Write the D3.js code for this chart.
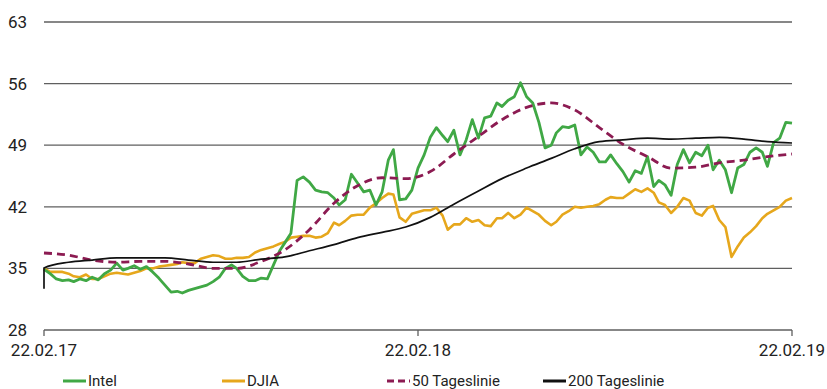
<!DOCTYPE html>
<html lang="de">
  <head>
    <meta charset="UTF-8" />
    <title>Intel vs DJIA</title>
    <script src="https://d3js.org/d3.v7.min.js"></script>
    <style>
      body { margin: 0; background: #fff; }
      text { font-family: Roboto, "DejaVu Sans", sans-serif; fill: #222; }
    </style>
  </head>
  <body>
    <div id="chart"></div>
    <script>
      // y ticks and x ticks
      const yTicks = [28, 35, 42, 49, 56, 63];
      const xTickLabels = ["22.02.17", "22.02.18", "22.02.19"];
      const startDate = "2017-02-22";
      const endDate = "2019-02-22";

      // Intel close, roughly every 6 calendar days
      const intel = [
        34.9, 34.4, 33.8, 33.6, 33.7, 33.5, 33.8, 33.6, 34.0, 33.7,
        34.4, 34.8, 35.6, 34.8, 35.0, 35.3, 34.9, 35.2, 34.6, 33.9,
        33.1, 32.3, 32.4, 32.2, 32.5, 32.7, 32.9, 33.1, 33.5, 34.0,
        35.0, 35.4, 35.0, 34.1, 33.6, 33.6, 33.9, 33.8, 35.4, 37.0,
        37.9, 39.0, 45.0, 45.4, 44.8, 43.9, 43.7, 43.6, 43.0, 42.2,
        42.8, 45.7, 44.7, 43.7, 43.9, 42.2, 43.7, 47.3, 48.5, 42.8,
        42.9, 43.9, 46.4, 47.9, 49.9, 51.0, 50.1, 49.4, 50.7, 47.9,
        49.6, 51.9, 49.8, 52.1, 52.3, 53.8, 53.4, 54.1, 54.5, 56.1,
        54.5, 53.8, 51.6, 48.7, 49.0, 50.4, 51.1, 51.0, 51.3, 47.9,
        48.8, 48.2, 47.1, 47.1, 47.9, 46.9, 46.0, 44.8, 46.1, 45.8,
        47.7, 44.3, 45.0, 44.5, 43.3, 46.8, 48.5, 47.0, 48.2, 47.8,
        49.0, 46.2, 47.3, 46.2, 43.6, 46.4, 46.8, 48.2, 48.7, 48.2,
        46.6, 49.3, 49.8, 51.6, 51.5
      ];

      // DJIA (scaled), same dates
      const djia = [
        35.0, 34.6, 34.6, 34.6, 34.4, 34.1, 34.0, 34.3, 33.8, 33.8,
        34.1, 34.4, 34.5, 34.4, 34.3, 34.5, 34.7, 35.0, 35.0, 35.2,
        35.3, 35.4, 35.5, 35.7, 35.6, 35.6, 36.1, 36.3, 36.5, 36.4,
        36.1, 36.1, 36.2, 36.2, 36.3, 36.8, 37.1, 37.3, 37.5, 37.8,
        38.0, 38.5, 38.6, 38.7, 38.7, 38.5, 38.6, 39.0, 40.2, 39.9,
        40.4, 41.0, 41.1, 41.1, 41.9, 42.4, 43.0, 43.5, 43.4, 40.8,
        40.3, 41.2, 41.4, 41.6, 41.6, 41.9, 41.0, 39.4, 40.0, 40.0,
        40.7, 40.3, 40.5, 39.9, 39.8, 40.7, 40.7, 41.3, 40.7, 41.1,
        41.9, 41.5, 41.1, 40.4, 39.9, 40.3, 41.1, 41.5, 42.0, 41.9,
        42.0, 42.1, 42.3, 42.8, 43.1, 43.0, 43.0, 43.5, 44.0, 43.7,
        44.1, 43.6, 42.5, 42.2, 41.3, 42.0, 43.0, 42.7, 41.3, 41.0,
        41.9, 42.1, 40.5, 39.7, 36.3, 37.5, 38.5, 39.1, 39.8, 40.7,
        41.2, 41.6, 42.0, 42.7, 43.0
      ];

      // moving averages, every 4th date of the grid above
      const ma50 = [
        36.75, 36.5, 35.95, 35.7, 35.8, 35.8, 35.5, 35.0, 35.0, 35.8,
        37.1, 39.4, 42.4, 44.4, 45.3, 45.2, 46.0, 48.0, 50.0, 51.9,
        53.3, 53.8, 53.0, 51.0, 49.1, 47.7, 46.4, 46.5, 47.0, 47.3,
        47.7, 48.0
      ];
      const ma200Start = 32.7;
      const ma200 = [
        35.05, 35.7, 35.95, 36.2, 36.2, 36.2, 35.95, 35.7, 35.7, 36.05,
        36.3, 37.0, 37.7, 38.5, 39.1, 39.7, 40.8, 42.3, 43.8, 45.2,
        46.4, 47.5, 48.6, 49.4, 49.6, 49.8, 49.7, 49.8, 49.9, 49.7,
        49.4, 49.25
      ];

      const legendItems = [
        { name: "Intel", color: "#40a845", dash: null },
        { name: "DJIA", color: "#e6a71c", dash: null },
        { name: "50 Tageslinie", color: "#8c1b52", dash: "7,4" },
        { name: "200 Tageslinie", color: "#111", dash: null },
      ];

      const W = 827, H = 389;
      const svg = d3.select("#chart").append("svg")
        .attr("width", W).attr("height", H);

      const parse = d3.timeParse("%Y-%m-%d");
      const t0 = parse(startDate), t1 = parse(endDate);
      const totalDays = d3.timeDay.count(t0, t1);
      const n = intel.length;
      const dateAt = i => d3.timeDay.offset(t0, Math.round(i * totalDays / (n - 1)));

      const x = d3.scaleTime().domain([t0, t1]).range([44, 792]);
      const y = d3.scaleLinear().domain([28, 63]).range([330, 22]);

      // gridlines
      svg.append("g").selectAll("line").data(yTicks).join("line")
        .attr("x1", 44).attr("x2", 792)
        .attr("y1", d => y(d)).attr("y2", d => y(d))
        .attr("stroke", "#5f5f5f").attr("stroke-width", 1.3);

      svg.append("g").selectAll("text").data(yTicks).join("text")
        .attr("x", 27).attr("y", d => y(d)).attr("dy", "0.35em")
        .attr("text-anchor", "end").attr("font-size", 17)
        .text(d => d);

      // x ticks
      const xTickDates = [t0, d3.timeYear.offset(t0, 1), t1];
      svg.append("g").selectAll("line").data(xTickDates).join("line")
        .attr("x1", d => x(d)).attr("x2", d => x(d))
        .attr("y1", 330).attr("y2", 336)
        .attr("stroke", "#5f5f5f").attr("stroke-width", 1.3);
      svg.append("g").selectAll("text").data(xTickDates).join("text")
        .attr("x", d => x(d)).attr("y", 356)
        .attr("text-anchor", "middle").attr("font-size", 17)
        .text((d, i) => xTickLabels[i]);

      const line = d3.line().x(d => x(d.date)).y(d => y(d.v));
      const smooth = d3.line().x(d => x(d.date)).y(d => y(d.v)).curve(d3.curveMonotoneX);

      const intelData = intel.map((v, i) => ({ date: dateAt(i), v }));
      const djiaData = djia.map((v, i) => ({ date: dateAt(i), v }));
      const ma50Data = ma50.map((v, i) => ({ date: dateAt(i * 4), v }));
      const ma200Data = [{ date: t0, v: ma200Start }]
        .concat(ma200.map((v, i) => ({ date: dateAt(i * 4), v })));

      svg.append("path").datum(djiaData)
        .attr("fill", "none").attr("stroke", legendItems[1].color)
        .attr("stroke-width", 2.6).attr("stroke-linejoin", "round")
        .attr("d", line);
      svg.append("path").datum(intelData)
        .attr("fill", "none").attr("stroke", legendItems[0].color)
        .attr("stroke-width", 2.8).attr("stroke-linejoin", "round")
        .attr("d", line);
      svg.append("path").datum(ma50Data)
        .attr("fill", "none").attr("stroke", legendItems[2].color)
        .attr("stroke-width", 2.8).attr("stroke-dasharray", "8,5")
        .attr("d", smooth);
      svg.append("path").datum(ma200Data)
        .attr("fill", "none").attr("stroke", legendItems[3].color)
        .attr("stroke-width", 1.7)
        .attr("d", smooth);

      // legend
      const legendX = [63, 222, 387, 543];
      const lg = svg.append("g").selectAll("g").data(legendItems).join("g")
        .attr("transform", (d, i) => `translate(${legendX[i]},381)`);
      lg.append("line")
        .attr("x1", 0).attr("x2", 23)
        .attr("stroke", d => d.color).attr("stroke-width", 3)
        .attr("stroke-dasharray", d => d.dash);
      lg.append("text")
        .attr("x", 25).attr("dy", "0.36em").attr("font-size", 15)
        .text(d => d.name);
    </script>
  </body>
</html>
